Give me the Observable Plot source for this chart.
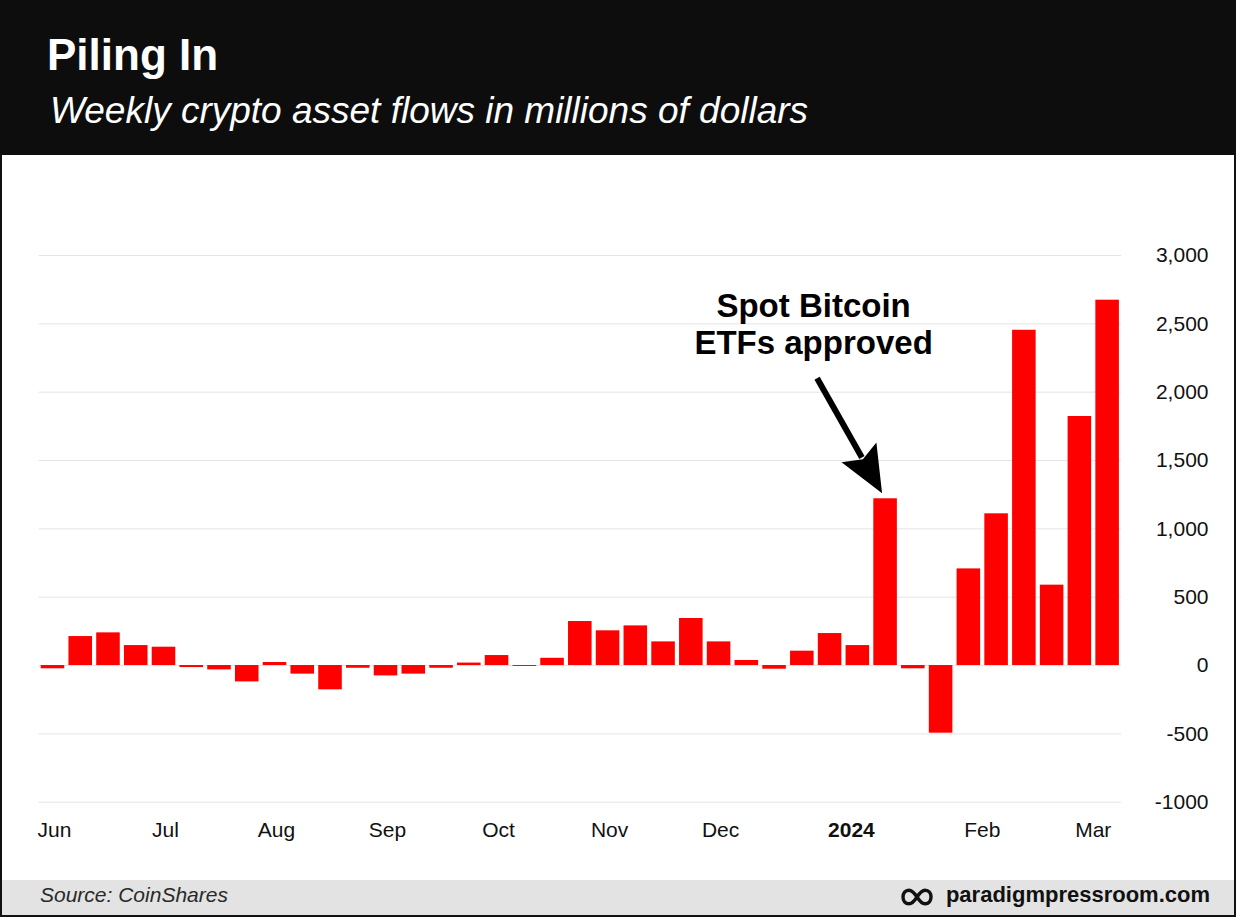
<!DOCTYPE html>
<html>
<head>
<meta charset="utf-8">
<script src="https://cdn.jsdelivr.net/npm/d3@7"></script>
<script src="https://cdn.jsdelivr.net/npm/@observablehq/plot@0.6"></script>
<style>
  html, body { margin: 0; padding: 0; background: #fff; }
  #frame { position: relative; width: 1236px; height: 917px; background: #111; overflow: hidden;
           font-family: "Liberation Sans", Arial, Helvetica, sans-serif; }
  #header { position: absolute; left: 0; top: 0; width: 1236px; height: 155px; background: #0d0d0d; }
  #title { position: absolute; left: 47px; top: 33px; font-size: 44px; line-height: 44px; font-weight: bold; color: #fff; white-space: nowrap; }
  #subtitle { position: absolute; left: 50px; top: 92px; font-size: 37px; line-height: 37px; font-style: italic; color: #fff; white-space: nowrap; }
  #panel { position: absolute; left: 2px; top: 155px; width: 1232px; height: 725px; background: #fff; }
  #footer { position: absolute; left: 2px; top: 880px; width: 1232px; height: 35px; background: #e3e3e3; }
  #source { position: absolute; left: 38px; top: 4px; font-size: 21px; line-height: 21px; font-style: italic; color: #2a2a2a; white-space: nowrap; }
  #brand { position: absolute; right: 24px; top: 4px; font-size: 22px; line-height: 22px; font-weight: bold; color: #111; white-space: nowrap; }
  #logo { position: absolute; left: 899px; top: 8px; }
</style>
</head>
<body>
<div id="frame">
  <div id="header">
    <div id="title">Piling In</div>
    <div id="subtitle">Weekly crypto asset flows in millions of dollars</div>
  </div>
  <div id="panel"></div>
  <div id="footer">
    <div id="source">Source: CoinShares</div>
    <svg id="logo" width="32" height="18" viewBox="0 0 32 18">
      <path d="M16,9 C12.8,4 10.2,2.2 8,2.2 C4.2,2.2 2,5.2 2,9 C2,12.8 4.2,15.8 8,15.8 C10.2,15.8 12.8,14 16,9 C19.2,4 21.8,2.2 24,2.2 C27.8,2.2 30,5.2 30,9 C30,12.8 27.8,15.8 24,15.8 C21.8,15.8 19.2,14 16,9 Z" fill="none" stroke="#111" stroke-width="3.4"/>
    </svg>
    <div id="brand">paradigmpressroom.com</div>
  </div>
</div>
<script>
// ---- Data ----
const weeks = [
  "2023-06-16","2023-06-23","2023-06-30","2023-07-07","2023-07-14","2023-07-21","2023-07-28",
  "2023-08-04","2023-08-11","2023-08-18","2023-08-25","2023-09-01","2023-09-08","2023-09-15",
  "2023-09-22","2023-09-29","2023-10-06","2023-10-13","2023-10-20","2023-10-27","2023-11-03",
  "2023-11-10","2023-11-17","2023-11-24","2023-12-01","2023-12-08","2023-12-15","2023-12-22",
  "2023-12-29","2024-01-05","2024-01-12","2024-01-19","2024-01-26","2024-02-02","2024-02-09",
  "2024-02-16","2024-02-23","2024-03-01","2024-03-08"
];
const flows = [
  -24, 212, 239, 146, 134, -15, -32,
  -120, 22, -63, -178, -20, -76, -63,
  -20, 18, 73, -7, 53, 322, 254,
  290, 173, 344, 173, 37, -27, 105,
  234, 146, 1220, -24, -495, 707, 1110,
  2453, 588, 1822, 2673
];
const xTickDates = ["2023-06-16","2023-07-14","2023-08-11","2023-09-08","2023-10-06","2023-11-03","2023-12-01","2024-02-05","2024-03-04"];
const xTickLabels = ["Jun","Jul","Aug","Sep","Oct","Nov","Dec","Feb","Mar"];
const yearTickDates = ["2024-01-03"];
const yearTickLabels = ["2024"];
const yTicks = [-1000, -500, 0, 500, 1000, 1500, 2000, 2500, 3000];
const yTickLabels = ["-1000", "-500", "0", "500", "1,000", "1,500", "2,000", "2,500", "3,000"];
const annotationDate = "2024-01-12";
const annotationValue = 1220;
const annotationText = "Spot Bitcoin\nETFs approved";

// ---- Build ----
const parse = d3.utcParse("%Y-%m-%d");
const rows = weeks.map((w, i) => ({date: parse(w), value: flows[i]}));
const xt = xTickDates.map(parse);
const yt = yearTickDates.map(parse);
const annotation = [{date: parse(annotationDate), value: annotationValue, label: annotationText}];
const xDomain = [d3.utcHour.offset(rows[0].date, -84), d3.utcHour.offset(rows[rows.length - 1].date, 84)];

const arrowMark = (index, scales) => {
  const a = annotation[0];
  const ax = scales.x(a.date), ay = scales.y(a.value);
  const tip = [ax - 3, ay - 5];
  const start = [ax - 68, ay - 120];
  const dx = tip[0] - start[0], dy = tip[1] - start[1];
  const len = Math.hypot(dx, dy);
  const u = [dx / len, dy / len];
  const n = [-u[1], u[0]];
  const headLen = 47, halfW = 20;
  const base = [tip[0] - headLen * u[0], tip[1] - headLen * u[1]];
  const g = d3.create("svg:g");
  g.append("line")
    .attr("x1", start[0]).attr("y1", start[1])
    .attr("x2", base[0] + 6 * u[0]).attr("y2", base[1] + 6 * u[1])
    .attr("stroke", "#000").attr("stroke-width", 6);
  const p1 = [base[0] + halfW * n[0], base[1] + halfW * n[1]];
  const p2 = [base[0] - halfW * n[0], base[1] - halfW * n[1]];
  const notch = [base[0] + 8 * u[0], base[1] + 8 * u[1]];
  g.append("path")
    .attr("d", `M${tip[0]},${tip[1]}L${p1[0]},${p1[1]}L${notch[0]},${notch[1]}L${p2[0]},${p2[1]}Z`)
    .attr("fill", "#000");
  return g.node();
};

const chart = Plot.plot({
  width: 1232,
  height: 725,
  marginTop: 100,
  marginBottom: 78.3,
  marginLeft: 36.6,
  marginRight: 113,
  style: {fontFamily: '"Liberation Sans", Arial, Helvetica, sans-serif', fontSize: "21px", color: "#000", background: "transparent", overflow: "visible"},
  x: {type: "utc", domain: xDomain},
  y: {domain: [-1000, 3000]},
  marks: [
    Plot.gridY(yTicks, {stroke: "#e4e4e4", strokeOpacity: 1, strokeWidth: 1}),
    Plot.rectY(rows, {
      x1: d => d3.utcHour.offset(d.date, -84),
      x2: d => d3.utcHour.offset(d.date, 84),
      y1: 0, y2: "value",
      fill: "#ff0000", insetLeft: 2.1, insetRight: 2.1
    }),
    Plot.axisY({anchor: "right", ticks: yTicks, tickFormat: d => yTickLabels[yTicks.indexOf(d)],
      tickSize: 0, tickPadding: 87, textAnchor: "end", fontSize: 21, fill: "#111", label: null}),
    Plot.axisX({ticks: xt, tickFormat: d => xTickLabels[xt.findIndex(t => +t === +d)],
      tickSize: 0, tickPadding: 19.4, fontSize: 21, fill: "#111", dx: 1.5, label: null}),
    Plot.axisX({ticks: yt, tickFormat: d => yearTickLabels[yt.findIndex(t => +t === +d)],
      tickSize: 0, tickPadding: 19.4, fontSize: 21, fontWeight: "bold", fill: "#111", dx: 1.5, label: null}),
    Plot.text(annotation, {x: "date", y: "value", text: "label", dx: -72, dy: -145,
      lineAnchor: "bottom", lineHeight: 1.12, fontSize: 33, fontWeight: "bold", fill: "#000", textAnchor: "middle"}),
    arrowMark
  ]
});
document.getElementById("panel").appendChild(chart);
</script>
</body>
</html>
